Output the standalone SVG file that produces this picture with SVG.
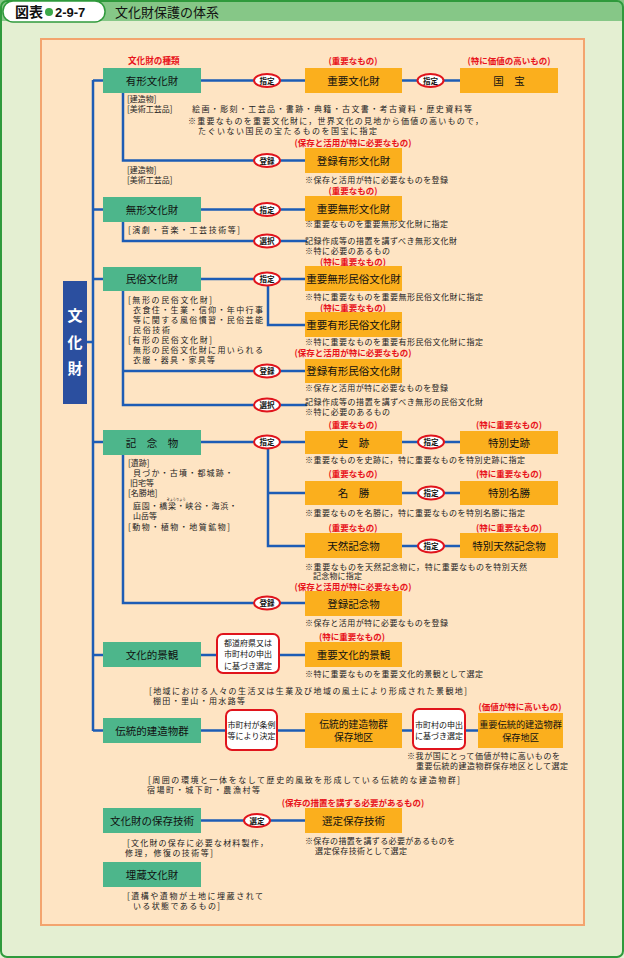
<svg xmlns="http://www.w3.org/2000/svg" width="624" height="958" viewBox="0 0 624 958">
<style>
text{font-family:"Noto Sans CJK JP","Noto Sans CJK SC",sans-serif}
.cat{fill:#4db68b}
.org{fill:#fbaf1d}
.ct{font-size:10.5px;fill:#111;text-anchor:middle}
.sm{font-size:8px;fill:#222}
.rd{font-size:8.5px;fill:#e8141c;font-weight:bold;text-anchor:middle}
.ov{fill:#fff;stroke:#e0141c;stroke-width:2}
.ot{font-size:7.5px;fill:#111;font-weight:bold;text-anchor:middle}
.wb{fill:#fff;stroke:#e0141c;stroke-width:2}
.wt{font-size:8px;fill:#111;text-anchor:middle}
.ln{stroke:#1d5cb5;stroke-width:2.5;fill:none}
</style>
<rect x="0" y="0" width="624" height="958" fill="#e4efd2"/>
<rect x="0" y="0" width="624" height="21" fill="#86c787"/>
<rect x="1" y="1" width="622" height="956" rx="6" fill="none" stroke="#2f9a3c" stroke-width="2"/>
<g id="title">
<rect x="3" y="1" width="102" height="21" rx="10" fill="#fff" stroke="#2f9a3c" stroke-width="1.5"/>
<text x="15" y="17" font-size="14" font-weight="bold" fill="#111">図表</text>
<circle cx="49" cy="12" r="4" fill="#3aa848"/>
<text x="55" y="17" font-size="13" font-weight="bold" fill="#111" style="font-family:'Liberation Sans',sans-serif">2-9-7</text>
<text x="115" y="17" font-size="13" fill="#111">文化財保護の体系</text>
</g>
<rect x="41" y="39" width="543" height="886" fill="#fee4c3" stroke="#f3a46e" stroke-width="2"/>

<g id="connectors">
<path class="ln" d="M93 80 V731 M87 342 H93"/>
<path class="ln" d="M93 80.5 H103 M201 80.5 H305 M402 80.5 H460 M123 93 V160.5 H305"/>
<path class="ln" d="M93 209.5 H103 M201 209.5 H305 M123 222 V241 H307"/>
<path class="ln" d="M93 279 H103 M201 279 H305 M268 279 V325 H305 M123 291 V405 H307 M123 371 H305"/>
<path class="ln" d="M93 442 H103 M201 442 H305 M402 442 H460 M268 442 V546 H305 M268 493 H305 M402 493 H460 M402 546 H460 M123 455 V603 H305"/>
<path class="ln" d="M93 655 H103 M201 655 H305"/>
<path class="ln" d="M93 730.5 H103 M201 730.5 H478"/>
<path class="ln" d="M201 820.5 H305"/>
</g>

<g id="bunkazai">
<rect x="63" y="281" width="24" height="123" fill="#2b4f9f"/>
<text x="75" y="321" font-size="15" font-weight="bold" fill="#fff" text-anchor="middle">文</text>
<text x="75" y="348" font-size="15" font-weight="bold" fill="#fff" text-anchor="middle">化</text>
<text x="75" y="374" font-size="15" font-weight="bold" fill="#fff" text-anchor="middle">財</text>
</g>

<g id="ovals">
<ellipse class="ov" cx="267" cy="80.5" rx="13" ry="6.5"/><text class="ot" x="267" y="83.5">指定</text>
<ellipse class="ov" cx="430.5" cy="80.5" rx="13" ry="6.5"/><text class="ot" x="430.5" y="83.5">指定</text>
<ellipse class="ov" cx="267" cy="160.5" rx="13" ry="6.5"/><text class="ot" x="267" y="163.5">登録</text>
<ellipse class="ov" cx="267" cy="209.5" rx="13" ry="6.5"/><text class="ot" x="267" y="212.5">指定</text>
<ellipse class="ov" cx="267" cy="241" rx="13" ry="6.5"/><text class="ot" x="267" y="244">選択</text>
<ellipse class="ov" cx="267" cy="279" rx="13" ry="6.5"/><text class="ot" x="267" y="282">指定</text>
<ellipse class="ov" cx="267" cy="371" rx="13" ry="6.5"/><text class="ot" x="267" y="374">登録</text>
<ellipse class="ov" cx="267" cy="405" rx="13" ry="6.5"/><text class="ot" x="267" y="408">選択</text>
<ellipse class="ov" cx="267" cy="442" rx="13" ry="6.5"/><text class="ot" x="267" y="445">指定</text>
<ellipse class="ov" cx="431" cy="442" rx="13" ry="6.5"/><text class="ot" x="431" y="445">指定</text>
<ellipse class="ov" cx="431" cy="493" rx="13" ry="6.5"/><text class="ot" x="431" y="496">指定</text>
<ellipse class="ov" cx="431" cy="546" rx="13" ry="6.5"/><text class="ot" x="431" y="549">指定</text>
<ellipse class="ov" cx="267" cy="603" rx="13" ry="6.5"/><text class="ot" x="267" y="606">登録</text>
<ellipse class="ov" cx="257" cy="820.5" rx="13" ry="6.5"/><text class="ot" x="257" y="823.5">選定</text>
</g>

<text x="128" y="64" font-size="8.6" font-weight="bold" fill="#e8141c">文化財の種類</text>

<g id="yukei">
<rect class="cat" x="103" y="68" width="98" height="25"/><text class="ct" x="152" y="84.5">有形文化財</text>
<text class="sm" x="127" y="101.5">[建造物]</text>
<text class="sm" x="127" y="112">[美術工芸品]</text>
<text class="sm" x="192" y="112" textLength="280" lengthAdjust="spacing">絵画・彫刻・工芸品・書跡・典籍・古文書・考古資料・歴史資料等</text>
<text class="sm" x="188" y="124" textLength="295" lengthAdjust="spacing">※重要なものを重要文化財に，世界文化の見地から価値の高いもので，</text>
<text class="sm" x="198" y="134" textLength="179" lengthAdjust="spacing">たぐいない国民の宝たるものを国宝に指定</text>
<text class="sm" x="127" y="172.5">[建造物]</text>
<text class="sm" x="127" y="182.5">[美術工芸品]</text>
</g>
<g id="juyobunkazai">
<text class="rd" x="353" y="64">(重要なもの)</text>
<rect class="org" x="305" y="68" width="97" height="25"/><text class="ct" x="353.5" y="84.5">重要文化財</text>
</g>
<g id="kokuho">
<text class="rd" x="509" y="64">(特に価値の高いもの)</text>
<rect class="org" x="460" y="68" width="98" height="25"/><text class="ct" x="509" y="84.5">国　宝</text>
</g>
<g id="toroku-yukei">
<text class="rd" x="353" y="146">(保存と活用が特に必要なもの)</text>
<rect class="org" x="305" y="148" width="97" height="25"/><text class="ct" x="353.5" y="164.5">登録有形文化財</text>
<text class="sm" x="305" y="183" textLength="143" lengthAdjust="spacing">※保存と活用が特に必要なものを登録</text>
</g>

<g id="mukei">
<rect class="cat" x="103" y="197" width="98" height="25"/><text class="ct" x="152" y="213.5">無形文化財</text>
<text class="sm" x="128" y="233" textLength="112" lengthAdjust="spacing">[演劇・音楽・工芸技術等]</text>
</g>
<g id="juyomukei">
<text class="rd" x="353" y="194">(重要なもの)</text>
<rect class="org" x="305" y="196" width="97" height="25"/><text class="ct" x="353.5" y="212.5">重要無形文化財</text>
<text class="sm" x="305" y="227" textLength="143" lengthAdjust="spacing">※重要なものを重要無形文化財に指定</text>
<text class="sm" x="305" y="243.5" textLength="152" lengthAdjust="spacing">記録作成等の措置を講ずべき無形文化財</text>
<text class="sm" x="305" y="253.5" textLength="85" lengthAdjust="spacing">※特に必要のあるもの</text>
</g>

<g id="minzoku">
<rect class="cat" x="103" y="267" width="98" height="24"/><text class="ct" x="152" y="283">民俗文化財</text>
<text class="sm" x="128" y="303" textLength="84" lengthAdjust="spacing">[無形の民俗文化財]</text>
<text class="sm" x="133" y="313" textLength="130" lengthAdjust="spacing">衣食住・生業・信仰・年中行事</text>
<text class="sm" x="133" y="323" textLength="130" lengthAdjust="spacing">等に関する風俗慣習・民俗芸能</text>
<text class="sm" x="133" y="333" textLength="37" lengthAdjust="spacing">民俗技術</text>
<text class="sm" x="128" y="343" textLength="84" lengthAdjust="spacing">[有形の民俗文化財]</text>
<text class="sm" x="133" y="353" textLength="130" lengthAdjust="spacing">無形の民俗文化財に用いられる</text>
<text class="sm" x="133" y="363" textLength="82" lengthAdjust="spacing">衣服・器具・家具等</text>
</g>
<g id="juyomukeiminzoku">
<text class="rd" x="353" y="264.5">(特に重要なもの)</text>
<rect class="org" x="305" y="266" width="97" height="25"/><text class="ct" x="353.5" y="282.5">重要無形民俗文化財</text>
<text class="sm" x="305" y="300" textLength="178" lengthAdjust="spacing">※特に重要なものを重要無形民俗文化財に指定</text>
</g>
<g id="juyoyukeiminzoku">
<text class="rd" x="353" y="310.5">(特に重要なもの)</text>
<rect class="org" x="305" y="312" width="97" height="25"/><text class="ct" x="353.5" y="328.5">重要有形民俗文化財</text>
<text class="sm" x="305" y="345" textLength="178" lengthAdjust="spacing">※特に重要なものを重要有形民俗文化財に指定</text>
</g>
<g id="torokuminzoku">
<text class="rd" x="353" y="356">(保存と活用が特に必要なもの)</text>
<rect class="org" x="305" y="359" width="97" height="24"/><text class="ct" x="353.5" y="375">登録有形民俗文化財</text>
<text class="sm" x="305" y="391" textLength="143" lengthAdjust="spacing">※保存と活用が特に必要なものを登録</text>
<text class="sm" x="305" y="404.5" textLength="178" lengthAdjust="spacing">記録作成等の措置を講ずべき無形の民俗文化財</text>
<text class="sm" x="305" y="415" textLength="85" lengthAdjust="spacing">※特に必要のあるもの</text>
</g>

<g id="kinenbutsu">
<rect class="cat" x="103" y="430" width="98" height="25"/><text class="ct" x="152" y="446.5">記　念　物</text>
<text class="sm" x="128" y="466">[遺跡]</text>
<text class="sm" x="133" y="476" textLength="100" lengthAdjust="spacing">貝づか・古墳・都城跡・</text>
<text class="sm" x="130" y="486">旧宅等</text>
<text class="sm" x="128" y="496">[名勝地]</text>
<text x="166.5" y="500.5" font-size="3.2" fill="#222">きょうりょう</text>
<text class="sm" x="133" y="509" textLength="104" lengthAdjust="spacing">庭園・橋梁・峡谷・海浜・</text>
<text class="sm" x="133" y="519">山岳等</text>
<text class="sm" x="128" y="530" textLength="102" lengthAdjust="spacing">[動物・植物・地質鉱物]</text>
</g>
<g id="shiseki">
<text class="rd" x="353" y="428">(重要なもの)</text>
<rect class="org" x="305" y="431" width="97" height="23"/><text class="ct" x="353.5" y="446.5">史　跡</text>
<text class="sm" x="305" y="463" textLength="220" lengthAdjust="spacing">※重要なものを史跡に，特に重要なものを特別史跡に指定</text>
</g>
<g id="tokubetsushiseki">
<text class="rd" x="509" y="428">(特に重要なもの)</text>
<rect class="org" x="460" y="431" width="98" height="23"/><text class="ct" x="509" y="446.5">特別史跡</text>
</g>
<g id="meisho">
<text class="rd" x="353" y="477">(重要なもの)</text>
<rect class="org" x="305" y="481" width="97" height="24"/><text class="ct" x="353.5" y="497">名　勝</text>
<text class="sm" x="305" y="516" textLength="220" lengthAdjust="spacing">※重要なものを名勝に，特に重要なものを特別名勝に指定</text>
</g>
<g id="tokubetsumeisho">
<text class="rd" x="509" y="477">(特に重要なもの)</text>
<rect class="org" x="460" y="481" width="98" height="24"/><text class="ct" x="509" y="497">特別名勝</text>
</g>
<g id="tennen">
<text class="rd" x="353" y="531">(重要なもの)</text>
<rect class="org" x="305" y="533" width="97" height="25"/><text class="ct" x="353.5" y="549.5">天然記念物</text>
<text class="sm" x="305" y="569.5" textLength="222" lengthAdjust="spacing">※重要なものを天然記念物に，特に重要なものを特別天然</text>
<text class="sm" x="313" y="579" textLength="49" lengthAdjust="spacing">記念物に指定</text>
</g>
<g id="tokubetsutennen">
<text class="rd" x="509" y="531">(特に重要なもの)</text>
<rect class="org" x="460" y="533" width="98" height="25"/><text class="ct" x="509" y="549.5">特別天然記念物</text>
</g>
<g id="torokukinenbutsu">
<text class="rd" x="353" y="590">(保存と活用が特に必要なもの)</text>
<rect class="org" x="305" y="591" width="97" height="25"/><text class="ct" x="353.5" y="607.5">登録記念物</text>
<text class="sm" x="305" y="626" textLength="143" lengthAdjust="spacing">※保存と活用が特に必要なものを登録</text>
</g>

<g id="keikan">
<rect class="cat" x="103" y="642" width="98" height="25"/><text class="ct" x="152" y="658.5">文化的景観</text>
<text class="sm" x="149" y="694" textLength="318" lengthAdjust="spacing">[地域における人々の生活又は生業及び地域の風土により形成された景観地]</text>
<text class="sm" x="153" y="704" textLength="92" lengthAdjust="spacing">棚田・里山・用水路等</text>
</g>
<g id="todofuken">
<rect class="wb" x="217" y="634" width="62" height="39" rx="6"/>
<text class="wt" x="248" y="645.5">都道府県又は</text>
<text class="wt" x="248" y="657">市町村の申出</text>
<text class="wt" x="248" y="668.5">に基づき選定</text>
</g>
<g id="juyokeikan">
<text class="rd" x="352" y="640">(特に重要なもの)</text>
<rect class="org" x="305" y="642" width="97" height="25"/><text class="ct" x="353.5" y="658.5">重要文化的景観</text>
<text class="sm" x="305" y="677" textLength="178" lengthAdjust="spacing">※特に重要なものを重要文化的景観として選定</text>
</g>

<g id="dentoteki">
<rect class="cat" x="103" y="718" width="98" height="25"/><text class="ct" x="152" y="734.5">伝統的建造物群</text>
<text class="sm" x="148" y="783" textLength="312" lengthAdjust="spacing">[周囲の環境と一体をなして歴史的風致を形成している伝統的な建造物群]</text>
<text class="sm" x="147" y="793" textLength="113" lengthAdjust="spacing">宿場町・城下町・農漁村等</text>
</g>
<g id="shichoson-jorei">
<rect class="wb" x="226" y="710" width="51" height="40" rx="6"/>
<text class="wt" x="251.5" y="728">市町村が条例</text>
<text class="wt" x="251.5" y="739">等により決定</text>
</g>
<g id="dentochiku">
<rect class="org" x="305" y="713" width="97" height="35"/>
<text class="ct" x="353.5" y="727.5" style="font-size:9.8px">伝統的建造物群</text>
<text class="ct" x="353.5" y="741" style="font-size:9.8px">保存地区</text>
</g>
<g id="shichoson-moushide">
<rect class="wb" x="413" y="709" width="52" height="40" rx="6"/>
<text class="wt" x="439" y="728">市町村の申出</text>
<text class="wt" x="439" y="739">に基づき選定</text>
</g>
<g id="juyodentochiku">
<text class="rd" x="520" y="710">(価値が特に高いもの)</text>
<rect class="org" x="478" y="713" width="85" height="35"/>
<text class="ct" x="520.5" y="727.5" style="font-size:9.2px">重要伝統的建造物群</text>
<text class="ct" x="520.5" y="741" style="font-size:9.2px">保存地区</text>
<text class="sm" x="407" y="759" textLength="153" lengthAdjust="spacing">※我が国にとって価値が特に高いものを</text>
<text class="sm" x="416" y="769" textLength="152" lengthAdjust="spacing">重要伝統的建造物群保存地区として選定</text>
</g>

<g id="hozongijutsu">
<rect class="cat" x="103" y="808" width="98" height="25"/><text class="ct" x="152" y="824.5">文化財の保存技術</text>
<text class="sm" x="127" y="846" textLength="141" lengthAdjust="spacing">[文化財の保存に必要な材料製作，</text>
<text class="sm" x="125" y="856" textLength="88" lengthAdjust="spacing">修理，修復の技術等]</text>
</g>
<g id="senteihozongijutsu">
<text class="rd" x="353" y="806">(保存の措置を講ずる必要があるもの)</text>
<rect class="org" x="305" y="808" width="97" height="25"/><text class="ct" x="353.5" y="824.5">選定保存技術</text>
<text class="sm" x="305" y="844" textLength="150" lengthAdjust="spacing">※保存の措置を講ずる必要があるものを</text>
<text class="sm" x="315" y="854" textLength="92" lengthAdjust="spacing">選定保存技術として選定</text>
</g>

<g id="maizo">
<rect class="cat" x="103" y="862" width="98" height="25"/><text class="ct" x="152" y="878.5">埋蔵文化財</text>
<text class="sm" x="127" y="899" textLength="136" lengthAdjust="spacing">[遺構や遺物が土地に埋蔵されて</text>
<text class="sm" x="133" y="909" textLength="87" lengthAdjust="spacing">いる状態であるもの]</text>
</g>
</svg>
